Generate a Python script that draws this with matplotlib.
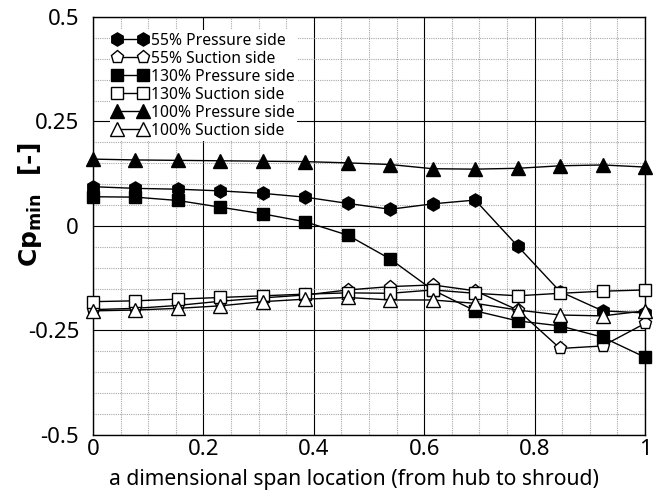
import numpy as np
import matplotlib
matplotlib.use('Agg')
import matplotlib.pyplot as plt
from matplotlib.ticker import MultipleLocator, FixedLocator, FuncFormatter

# span stations, hub (0) to shroud (1)
span = [i / 13 for i in range(14)]

cp_55_ps = [0.094, 0.090, 0.088, 0.084, 0.078, 0.069, 0.054, 0.040, 0.053, 0.062,
            -0.048, -0.157, -0.203, -0.208]
cp_55_ss = [-0.200, -0.197, -0.190, -0.180, -0.172, -0.165, -0.153, -0.145, -0.141, -0.155,
            -0.201, -0.293, -0.287, -0.233]
cp_130_ps = [0.070, 0.069, 0.061, 0.045, 0.029, 0.010, -0.022, -0.079, -0.153, -0.203,
             -0.227, -0.239, -0.266, -0.314]
cp_130_ss = [-0.181, -0.179, -0.175, -0.171, -0.167, -0.163, -0.160, -0.161, -0.153, -0.161,
             -0.167, -0.161, -0.156, -0.153]
cp_100_ps = [0.160, 0.158, 0.157, 0.156, 0.155, 0.154, 0.151, 0.147, 0.137, 0.136,
             0.138, 0.144, 0.146, 0.141]
cp_100_ss = [-0.203, -0.201, -0.197, -0.191, -0.181, -0.175, -0.171, -0.177, -0.177, -0.185,
             -0.201, -0.213, -0.215, -0.203]

labels = ['55% Pressure side', '55% Suction side', '130% Pressure side',
          '130% Suction side', '100% Pressure side', '100% Suction side']

plt.rcParams['font.family'] = ['Noto Sans', 'DejaVu Sans']

fig = plt.figure(figsize=(6.65, 4.95), dpi=100)
ax = fig.add_axes([0.1398, 0.1212, 0.8302, 0.8445])

series = [
    (cp_55_ps, 'h', 'black', 9.5),
    (cp_55_ss, 'p', 'white', 9.5),
    (cp_130_ps, 's', 'black', 8),
    (cp_130_ss, 's', 'white', 8),
    (cp_100_ps, '^', 'black', 9.5),
    (cp_100_ss, '^', 'white', 9.5),
]
for (vals, mk, fc, ms), lab in zip(series, labels):
    ax.plot(span, vals, color='black', lw=1.0, marker=mk, markersize=ms,
            markerfacecolor=fc, markeredgecolor='black', markeredgewidth=1.0,
            label=lab, zorder=3, clip_on=False)

ax.set_xlim(0, 1)
ax.set_ylim(-0.5, 0.5)
ax.xaxis.set_major_locator(MultipleLocator(0.2))
ax.xaxis.set_minor_locator(MultipleLocator(0.05))
ax.yaxis.set_major_locator(FixedLocator([-0.5, -0.25, 0, 0.25, 0.5]))
ax.yaxis.set_minor_locator(MultipleLocator(0.05))
ax.xaxis.set_major_formatter(FuncFormatter(lambda v, p: '%g' % round(v, 2)))
ax.yaxis.set_major_formatter(FuncFormatter(lambda v, p: '%g' % round(v, 2)))

ax.grid(which='minor', color='#a8a8a8', linestyle=(0, (1, 1)), lw=0.8)
ax.grid(which='major', color='black', linestyle='-', lw=0.8)
ax.set_axisbelow(True)
ax.tick_params(which='both', length=0)
ax.tick_params(axis='y', labelsize=16, pad=10)
ax.tick_params(axis='x', labelsize=16, pad=3)
for s in ax.spines.values():
    s.set_linewidth(1.0)

ax.set_xlabel('a dimensional span location (from hub to shroud)', fontsize=15.2, labelpad=3)
ax.xaxis.set_label_coords(0.473, -0.082)
ax.set_ylabel(r'Cp$_{\mathbf{min}}$  [-]', fontsize=18, fontweight='bold',
              family='DejaVu Sans')
ax.yaxis.set_label_coords(-0.088, 0.55)

leg = ax.legend(loc='upper left', bbox_to_anchor=(0.03, 0.968), fontsize=11.3,
                numpoints=2, handlelength=2.3, handletextpad=0.2, labelspacing=0.13,
                borderpad=0.15, frameon=True, fancybox=False, framealpha=1,
                edgecolor='none', borderaxespad=0)
leg.set_zorder(5)

fig.savefig('out.png', dpi=100)
